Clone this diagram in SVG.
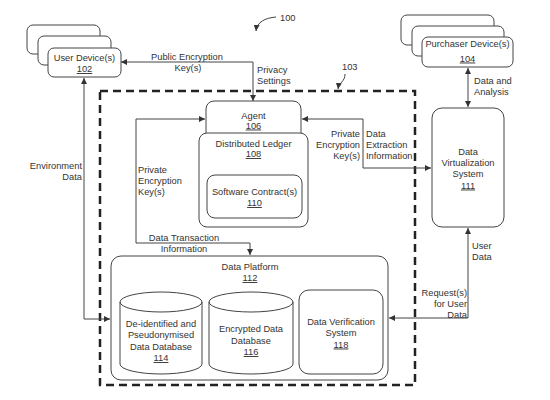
<svg xmlns="http://www.w3.org/2000/svg" width="550" height="400" viewBox="0 0 550 400">
<style>
text{font-family:"Liberation Sans",Arial,sans-serif;font-size:9.3px;fill:#333}
.m{text-anchor:middle}
.e{text-anchor:end}
.u{text-decoration:underline}
.box{fill:#fff;stroke:#444;stroke-width:1}
.ln{fill:none;stroke:#444;stroke-width:1}
.dash{fill:none;stroke:#222;stroke-width:2.5;stroke-dasharray:8 5}
</style>
<defs>
<marker id="ah" viewBox="0 0 10 10" refX="10" refY="5" markerWidth="6" markerHeight="6" markerUnits="userSpaceOnUse" orient="auto-start-reverse">
<path d="M0,0 L10,5 L0,10 z" fill="#333"/>
</marker>
</defs>
<rect width="550" height="400" fill="#fff"/>

<g id="boundary103">
<rect class="dash" x="100" y="91" width="315" height="294"/>
</g>

<g id="connectors">
<path class="ln" d="M121,62 H253 V101" marker-start="url(#ah)" marker-end="url(#ah)"/>
<path class="ln" d="M84,78 V319 H110" marker-start="url(#ah)" marker-end="url(#ah)"/>
<path class="ln" d="M205,119 H136 V243 H250 V255" marker-start="url(#ah)" marker-end="url(#ah)"/>
<path class="ln" d="M302,119 H363 V168 H431" marker-start="url(#ah)" marker-end="url(#ah)"/>
<path class="ln" d="M468,68 V107" marker-start="url(#ah)" marker-end="url(#ah)"/>
<path class="ln" d="M468,228 V318 H389" marker-start="url(#ah)" marker-end="url(#ah)"/>
<path class="ln" d="M276,17 C265,18 257,22 256,31" marker-end="url(#ah)"/>
<path class="ln" d="M345,74 C345,82 339,82 338,89" marker-end="url(#ah)"/>
</g>

<g id="labels">
<text class="m" x="187" y="60">Public Encryption</text>
<text class="m" x="188" y="71">Key(s)</text>
<text x="257" y="73">Privacy</text>
<text x="257" y="84">Settings</text>
<text x="280" y="21">100</text>
<text x="342" y="70">103</text>
<text x="474" y="84">Data and</text>
<text x="474" y="95">Analysis</text>
<text class="e" x="360" y="136.5">Private</text>
<text class="e" x="360" y="147.5">Encryption</text>
<text class="e" x="360" y="158.5">Key(s)</text>
<text x="366" y="136.5">Data</text>
<text x="366" y="147.5">Extraction</text>
<text x="366" y="158.5">Information</text>
<text x="138" y="172.5">Private</text>
<text x="138" y="184">Encryption</text>
<text x="138" y="195">Key(s)</text>
<text class="m" x="184" y="240.5">Data Transaction</text>
<text class="m" x="184" y="251.5">Information</text>
<text class="e" x="82" y="169">Environment</text>
<text class="e" x="82" y="180">Data</text>
<text x="472" y="248.5">User</text>
<text x="472" y="259.5">Data</text>
<text class="e" x="467" y="295.5">Request(s)</text>
<text class="e" x="467" y="306.5">for User</text>
<text class="e" x="467" y="318">Data</text>
</g>

<g id="userDevices102">
<rect class="box" x="27" y="25" width="73" height="29" rx="6"/>
<rect class="box" x="38" y="36" width="73" height="29" rx="6"/>
<rect class="box" x="48" y="48" width="73" height="29" rx="6"/>
<text class="m" x="84.5" y="60.5">User Device(s)</text>
<text class="m u" x="84.5" y="72">102</text>
</g>

<g id="purchaserDevices104">
<rect class="box" x="401" y="15" width="93" height="30" rx="6"/>
<rect class="box" x="412" y="26" width="92" height="30" rx="6"/>
<rect class="box" x="422" y="37" width="91" height="30" rx="6"/>
<text class="m" x="467.5" y="46.5">Purchaser Device(s)</text>
<text class="m u" x="467.5" y="61.5">104</text>
</g>

<g id="agent106">
<rect class="box" x="206" y="101" width="95" height="45" rx="8"/>
<text class="m" x="253.5" y="118.5">Agent</text>
<text class="m u" x="253.5" y="128.5">106</text>
</g>

<g id="ledger108">
<rect class="box" x="199" y="133" width="109" height="94" rx="8"/>
<text class="m" x="253.5" y="146.5">Distributed Ledger</text>
<text class="m u" x="253.5" y="157">108</text>
</g>

<g id="contract110">
<rect class="box" x="207" y="175" width="95" height="43" rx="8"/>
<text class="m" x="254.5" y="194.5">Software Contract(s)</text>
<text class="m u" x="254.5" y="206">110</text>
</g>

<g id="dataVirtualization111">
<rect class="box" x="432" y="108" width="72" height="119" rx="10"/>
<text class="m" x="468" y="154.5">Data</text>
<text class="m" x="468" y="165.5">Virtualization</text>
<text class="m" x="468" y="176.5">System</text>
<text class="m u" x="468" y="188.5">111</text>
</g>

<g id="dataPlatform112">
<rect class="box" x="111" y="256" width="277" height="124" rx="10"/>
<text class="m" x="250" y="269.5">Data Platform</text>
<text class="m u" x="250" y="281">112</text>
</g>

<g id="database114">
<path class="box" d="M120,302 A41,10 0 0 1 202,302 V364 A41,10 0 0 1 120,364 Z"/>
<path class="ln" d="M120,302 A41,10 0 0 0 202,302"/>
<text class="m" x="161" y="326.5">De-identified and</text>
<text class="m" x="161" y="338">Pseudonymised</text>
<text class="m" x="161" y="349.5">Data Database</text>
<text class="m u" x="161" y="361">114</text>
</g>

<g id="database116">
<path class="box" d="M209,302 A42,10 0 0 1 293,302 V364 A42,10 0 0 1 209,364 Z"/>
<path class="ln" d="M209,302 A42,10 0 0 0 293,302"/>
<text class="m" x="251" y="332">Encrypted Data</text>
<text class="m" x="251" y="343.5">Database</text>
<text class="m u" x="251" y="355">116</text>
</g>

<g id="verification118">
<rect class="box" x="299" y="290" width="84" height="84" rx="10"/>
<text class="m" x="341" y="324.5">Data Verification</text>
<text class="m" x="341" y="336">System</text>
<text class="m u" x="341" y="347.5">118</text>
</g>
</svg>
